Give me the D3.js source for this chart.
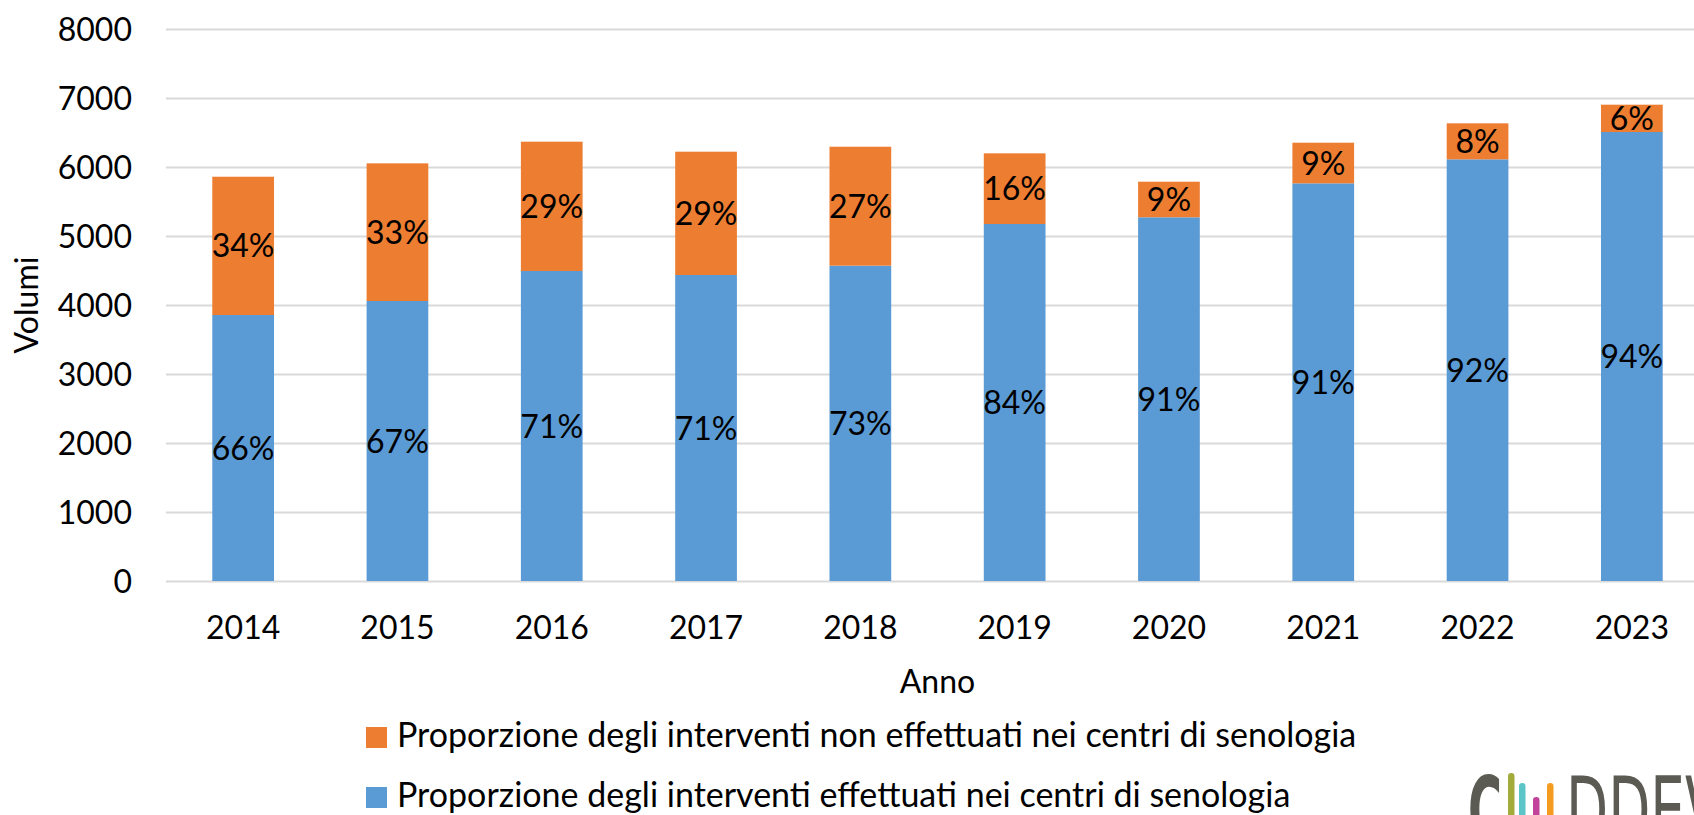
<!DOCTYPE html>
<html>
<head>
<meta charset="utf-8">
<script src="https://cdn.jsdelivr.net/npm/d3@7"></script>
<style>
  body { margin: 0; background: #fff; }
  svg { display: block; font-family: Lato, "Open Sans", sans-serif; }
  .tick text { fill: #000; }
</style>
</head>
<body>
<svg id="chart" width="1694" height="815"></svg>
<script>
// years on the x axis
var years = ['2014', '2015', '2016', '2017', '2018', '2019', '2020', '2021', '2022', '2023'];
// interventions done in breast centres (blue, bottom)
var inCentri = [3855, 4058, 4493, 4435, 4570, 5174, 5271, 5763, 6111, 6507];
// interventions not done in breast centres (orange, top)
var fuoriCentri = [2004, 1995, 1874, 1787, 1724, 1024, 516, 589, 522, 396];
// percentage labels as printed on the chart
var pctIn = ['66%', '67%', '71%', '71%', '73%', '84%', '91%', '91%', '92%', '94%'];
var pctFuori = ['34%', '33%', '29%', '29%', '27%', '16%', '9%', '9%', '8%', '6%'];
var yTicks = [0, 1000, 2000, 3000, 4000, 5000, 6000, 7000, 8000];

var seriesNames = [
    'Proporzione degli interventi non effettuati nei centri di senologia',
    'Proporzione degli interventi effettuati nei centri di senologia'
];
var colors = { fuori: '#ED7D31', dentro: '#5B9BD5' };

var svg = d3.select('#chart');
var plotL = 166, plotR = 1709, plotT = 29, plotB = 581;
var fs = 32;

var x = d3.scaleBand().domain(years).range([plotL, plotR]).paddingInner(0.6).paddingOuter(0.3);
var y = d3.scaleLinear().domain([0, 8000]).range([plotB, plotT]);

// gridlines + y labels
var yAxis = svg.append('g').attr('transform', 'translate(' + plotL + ',0)')
    .call(d3.axisLeft(y).tickValues(yTicks).tickFormat(d3.format('d'))
        .tickSizeInner(-(plotR - plotL)).tickSizeOuter(0).tickPadding(34));
yAxis.attr('font-family', null).attr('font-size', fs);
yAxis.select('.domain').remove();
yAxis.selectAll('.tick line').attr('stroke', '#d9d9d9').attr('stroke-width', 2);
yAxis.selectAll('.tick text').attr('dy', '0.36em');

var xAxis = svg.append('g').attr('transform', 'translate(0,' + plotB + ')')
    .call(d3.axisBottom(x).tickSize(0).tickPadding(35));
xAxis.attr('font-family', null).attr('font-size', fs);
xAxis.select('.domain').remove();

var rows = years.map(function (yr, i) {
    return { year: yr, a: inCentri[i], b: fuoriCentri[i], pa: pctIn[i], pb: pctFuori[i] };
});

var bars = svg.append('g');
bars.selectAll('.blu').data(rows).enter().append('rect')
    .attr('x', function (d) { return x(d.year); })
    .attr('width', x.bandwidth())
    .attr('y', function (d) { return y(d.a); })
    .attr('height', function (d) { return y(0) - y(d.a); })
    .attr('fill', colors.dentro);
bars.selectAll('.ara').data(rows).enter().append('rect')
    .attr('x', function (d) { return x(d.year); })
    .attr('width', x.bandwidth())
    .attr('y', function (d) { return y(d.a + d.b); })
    .attr('height', function (d) { return y(d.a) - y(d.a + d.b); })
    .attr('fill', colors.fuori);

var labels = svg.append('g').attr('font-size', fs).attr('text-anchor', 'middle').attr('fill', '#000');
labels.selectAll('.la').data(rows).enter().append('text')
    .attr('x', function (d) { return x(d.year) + x.bandwidth() / 2; })
    .attr('y', function (d) { return y(d.a / 2); })
    .attr('dy', '0.36em')
    .text(function (d) { return d.pa; });
labels.selectAll('.lb').data(rows).enter().append('text')
    .attr('x', function (d) { return x(d.year) + x.bandwidth() / 2; })
    .attr('y', function (d) { return y(d.a + d.b / 2); })
    .attr('dy', '0.36em')
    .text(function (d) { return d.pb; });

// axis titles
svg.append('text').attr('x', (plotL + plotR) / 2).attr('y', 693)
    .attr('text-anchor', 'middle').attr('font-size', fs).text('Anno');
svg.append('text').attr('transform', 'translate(38,305) rotate(-90)')
    .attr('text-anchor', 'middle').attr('font-size', fs).text('Volumi');

// legend
var legend = svg.append('g');
[[seriesNames[0], colors.fuori], [seriesNames[1], colors.dentro]].forEach(function (it, i) {
    var yy = 727 + i * 60;
    legend.append('rect').attr('x', 366).attr('y', yy).attr('width', 21).attr('height', 21).attr('fill', it[1]);
    legend.append('text').attr('x', 397).attr('y', yy + 20).attr('font-size', 34).text(it[0]);
});

// partial logo in the corner (cut by the bottom edge, as in the source)
var logo = svg.append('g').attr('fill', '#5b5a53')
    .attr('font-family', 'DejaVu Sans Condensed, sans-serif').attr('font-weight', 'bold');
logo.append('text').attr('x', 1468).attr('y', 843).attr('font-size', 92)
    .attr('textLength', 34).attr('lengthAdjust', 'spacingAndGlyphs').text('C');
[['#a3ab3a', 1508, 773], ['#5bc5c8', 1519, 783], ['#c2449a', 1533, 797], ['#f39c1f', 1547, 783]].forEach(function (b) {
    logo.append('rect').attr('x', b[1]).attr('y', b[2]).attr('width', 6.5).attr('height', 60).attr('rx', 3.2).attr('fill', b[0]);
});
logo.append('text').attr('x', 1566).attr('y', 843).attr('font-size', 92).attr('font-weight', 'normal')
    .attr('textLength', 190).attr('lengthAdjust', 'spacingAndGlyphs').text('DDEVA');
</script>
</body>
</html>
